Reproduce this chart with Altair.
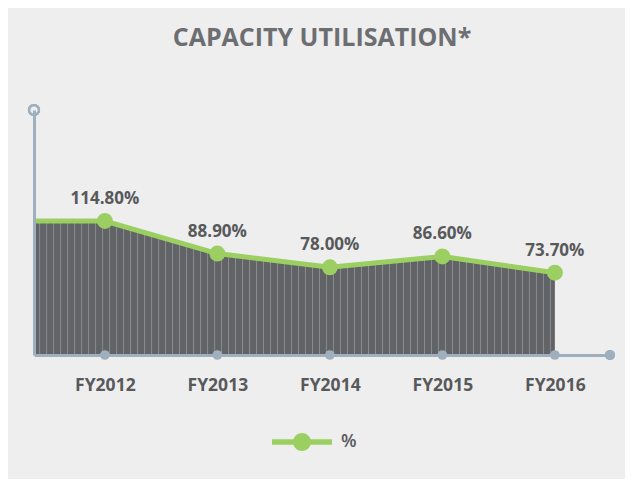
import altair as alt
import pandas as pd

years = ["FY2012", "FY2013", "FY2014", "FY2015", "FY2016"]
values = [114.8, 88.9, 78.0, 86.6, 73.7]
series_name = "%"

X_MIN, X_MAX = -0.63, 4.49
Y_MIN, Y_MAX = 8.3, 203.0

BG = "#eeeeee"
GREEN = "#9bcf62"
AXIS = "#9eb0bd"
DARK = "#626366"
STRIPE = "#8b8c8e"
TEXT = "#58595b"
FONT = "Open Sans"

idx = list(range(len(years)))
pts = pd.DataFrame({"i": idx, "year": years, "v": values, "s": [series_name] * len(years)})
# area / line start at the left edge of the axis with the first value
curve = pd.DataFrame({"i": [X_MIN] + idx, "v": [values[0]] + values})

label_expr = "[" + ",".join(f"'{y}'" for y in years) + "][datum.value]"

xs = alt.Scale(domain=[X_MIN, X_MAX], nice=False, zero=False)
ys = alt.Scale(domain=[Y_MIN, Y_MAX], nice=False, zero=False)

x_axis = alt.Axis(values=idx, labelExpr=label_expr, ticks=False, grid=False, title=None,
                  domainColor=AXIS, domainWidth=3, labelFont=FONT, labelFontSize=17.5,
                  labelFontWeight="bold", labelColor=TEXT, labelPadding=21, zindex=1)
y_axis = alt.Axis(labels=False, ticks=False, grid=False, title=None,
                  domainColor=AXIS, domainWidth=3, zindex=1)

area = alt.Chart(curve).mark_area(color=DARK, opacity=1).encode(
    x=alt.X("i:Q", scale=xs, axis=x_axis),
    y=alt.Y("v:Q", scale=ys, axis=y_axis),
    y2=alt.datum(Y_MIN),
)

stripes = alt.Chart(alt.sequence(X_MIN + 0.05, 4.0, 0.0622, as_="s")).mark_rule(
    color=STRIPE, strokeWidth=1
).encode(
    x=alt.X("s:Q", scale=xs),
    y=alt.datum(Y_MIN, scale=ys),
    y2=alt.datum(Y_MAX),
)

cover = alt.Chart(curve).mark_area(color=BG, opacity=1).encode(
    x=alt.X("i:Q", scale=xs),
    y=alt.Y("v:Q", scale=ys),
    y2=alt.datum(Y_MAX),
)

line = alt.Chart(curve).mark_line(color=GREEN, strokeWidth=5).encode(
    x=alt.X("i:Q", scale=xs),
    y=alt.Y("v:Q", scale=ys),
)

legend_path = ("M-1,-0.09L1,-0.09L1,0.09L-1,0.09Z "
               "M0.3,0A0.3,0.3,0,1,1,-0.3,0A0.3,0.3,0,1,1,0.3,0Z")

dots = alt.Chart(pts).mark_circle(size=254, opacity=1).encode(
    x=alt.X("i:Q", scale=xs),
    y=alt.Y("v:Q", scale=ys),
    color=alt.Color("s:N", scale=alt.Scale(range=[GREEN]),
                    legend=alt.Legend(title=None, orient="none", legendX=238, legendY=302,
                                      symbolType=legend_path, symbolSize=3600,
                                      symbolStrokeWidth=0, symbolOpacity=1,
                                      labelFont=FONT, labelFontSize=18, labelColor=TEXT,
                                      labelFontWeight=600,
                                      labelOffset=9, padding=0)),
)

labels = alt.Chart(pts).transform_calculate(
    lab="format(datum.v, '.2f') + '%'"
).mark_text(font=FONT, fontSize=17, fontWeight="bold", color=TEXT, dy=-22,
            baseline="middle").encode(
    x=alt.X("i:Q", scale=xs),
    y=alt.Y("v:Q", scale=ys),
    text="lab:N",
)

tick_dots = alt.Chart(pts).mark_circle(size=95, color=AXIS, opacity=1).encode(
    x=alt.X("i:Q", scale=xs),
    y=alt.datum(Y_MIN, scale=ys),
)

end_dot = alt.Chart(pts).mark_circle(size=95, color=AXIS, opacity=1).encode(
    x=alt.datum(X_MAX, scale=xs),
    y=alt.datum(Y_MIN, scale=ys),
)

top_ring = alt.Chart(pts).mark_point(size=95, fill=BG, stroke=AXIS, strokeWidth=2.5,
                                     filled=True, opacity=1, shape="circle").encode(
    x=alt.datum(X_MIN, scale=xs),
    y=alt.datum(Y_MAX, scale=ys),
)

chart = alt.layer(area, stripes, cover, line, tick_dots, end_dot, top_ring, dots, labels).properties(
    width=576,
    height=245,
    autosize=alt.AutoSizeParams(type="none"),
    padding={"left": 26, "top": 102, "right": 15, "bottom": 124},
    background=BG,
    title=alt.TitleParams("CAPACITY UTILISATION*", font=FONT, fontSize=25, fontWeight="bold",
                          color="#6d6e71", anchor="middle", offset=49),
).configure_view(stroke=None)

chart.save("out.html", embed_options={"renderer": "svg", "actions": False})
